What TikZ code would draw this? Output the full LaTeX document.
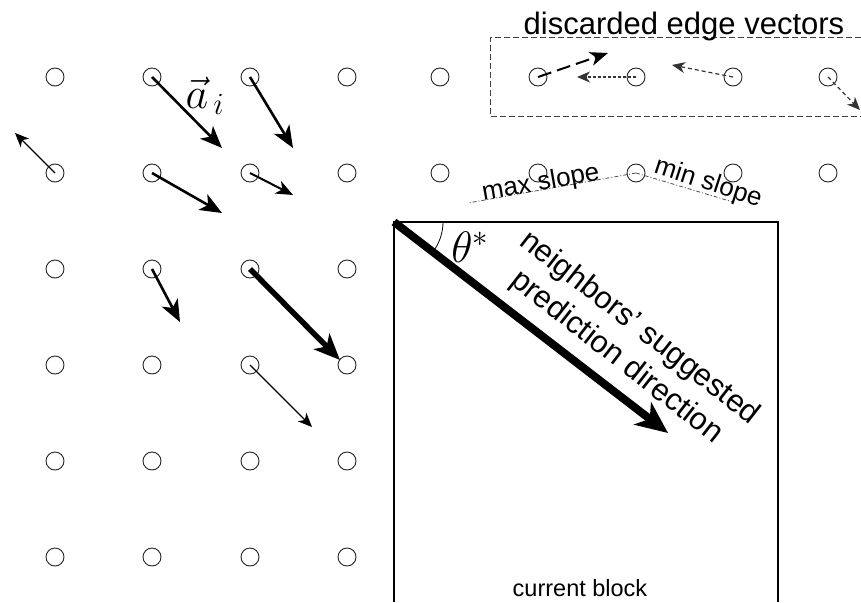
\RequirePackage{fix-cm}
\documentclass[tikz,border=0pt]{standalone}
\usepackage{fontspec}
\setmainfont{Liberation Sans}
\usetikzlibrary{arrows.meta}
\begin{document}
\begin{tikzpicture}[x=1pt,y=-1pt,
  dot/.style={circle, draw=black!85, line width=0.9pt, minimum size=18pt, inner sep=0pt},
  thinvec/.style={line width=1.4pt, -{Stealth[length=14pt,width=12pt,inset=4pt]}},
  medvec/.style={line width=2.6pt, -{Stealth[length=22pt,width=18pt,inset=6pt]}},
  bigvec/.style={line width=5.5pt, -{Stealth[length=26pt,width=22pt,inset=7pt]}},
  hugevec/.style={line width=8pt, -{Stealth[length=32pt,width=28pt,inset=9pt]}},
  slopeline/.style={black!70, line width=0.8pt, dash pattern=on 4pt off 2pt on 1pt off 2pt},
  discbox/.style={black!75, line width=1pt, dash pattern=on 6pt off 3pt}
]
\useasboundingbox (0,0) rectangle (861,602);

% grid of samples
\foreach \c/\x in {1/55,2/152,3/250,4/347,5/440,6/538,7/636,8/733,9/828}{
  \node[dot] (p1-\c) at (\x,77) {};
  \node[dot] (p2-\c) at (\x,173) {};
}
\foreach \r/\y in {3/269,4/365,5/461,6/557}{
  \foreach \c/\x in {1/55,2/152,3/250,4/347}{
    \node[dot] (p\r-\c) at (\x,\y) {};
  }
}

% current block
\draw[line width=1.3pt] (394,602) -- (394,222) -- (778,222) -- (778,602);
\coordinate (corner) at (394,222);
\node[font=\fontsize{23.5}{26}\selectfont, anchor=base] (cb) at (580,596) {current block};

% suggested direction
\coordinate (dirtip) at (668,433);
\draw[hugevec] (corner) -- (dirtip);
\draw[line width=0.8pt] ([shift={(49,0)}]corner) arc[start angle=0, end angle=36, radius=49];
\node[font=\fontsize{44}{44}\selectfont] (theta) at (470,247) {$\theta^{*}$};
\node[rotate=-38, align=center, font=\fontsize{31}{37}\selectfont] (nsp) at (628,343)
  {neighbors’ suggested\\prediction direction};

% neighbor edge vectors
\coordinate (t21) at (15,133);
\coordinate (t12) at (222,148);
\coordinate (t13) at (293,148);
\coordinate (t22) at (222,213);
\coordinate (t23) at (293,195);
\coordinate (t32) at (180,322);
\coordinate (t33) at (340,360);
\coordinate (t43) at (312,427);
\draw[thinvec] (p2-1.center) -- (t21);
\draw[medvec] (p1-2.center) -- (t12);
\draw[medvec] (p1-3.center) -- (t13);
\draw[medvec] (p2-2.center) -- (t22);
\draw[line width=2pt, -{Stealth[length=17pt,width=14pt,inset=5pt]}] (p2-3.center) -- (t23);
\draw[medvec] (p3-2.center) -- (t32);
\draw[bigvec] (p3-3.center) -- (t33);
\draw[thinvec] (p4-3.center) -- (t43);
\node[font=\fontsize{44}{44}\selectfont] (ai) at (205,96) {$\vec{a}_{\,i}$};

% discarded vectors
\draw[discbox] (870,38) -- (490,38) -- (490,116) -- (870,116);
\node[font=\fontsize{31}{34}\selectfont, anchor=base] (disc) at (684,35) {discarded edge vectors};
\coordinate (d1) at (608,53);
\coordinate (d2) at (577,77);
\coordinate (d3) at (672,65);
\coordinate (d4) at (860,110);
\draw[line width=2pt, dash pattern=on 14pt off 6pt, -{Stealth[length=18pt,width=14pt,inset=5pt]}] (p1-6.center) -- (d1);
\draw[black!80, line width=1.2pt, dash pattern=on 3pt off 2pt, -{Stealth[length=13pt,width=11pt,inset=4pt]}] (p1-7.center) -- (d2);
\draw[black!80, line width=1.2pt, dash pattern=on 4pt off 3pt, -{Stealth[length=13pt,width=11pt,inset=4pt]}] (p1-8.center) -- (d3);
\draw[black!80, line width=1.2pt, dash pattern=on 4pt off 3pt, -{Stealth[length=13pt,width=11pt,inset=4pt]}] (p1-9.center) -- (d4);

% slope bounds
\coordinate (maxend) at (468,203);
\coordinate (minend) at (733,202);
\draw[slopeline] (p2-7.center) -- (maxend);
\draw[slopeline] (p2-7.center) -- (minend);
\node[rotate=10, font=\fontsize{26}{28}\selectfont, anchor=base] (maxs) at (542,190) {max slope};
\node[rotate=-18, font=\fontsize{26}{28}\selectfont, anchor=base] (mins) at (706,190) {min slope};
\end{tikzpicture}
\end{document}
